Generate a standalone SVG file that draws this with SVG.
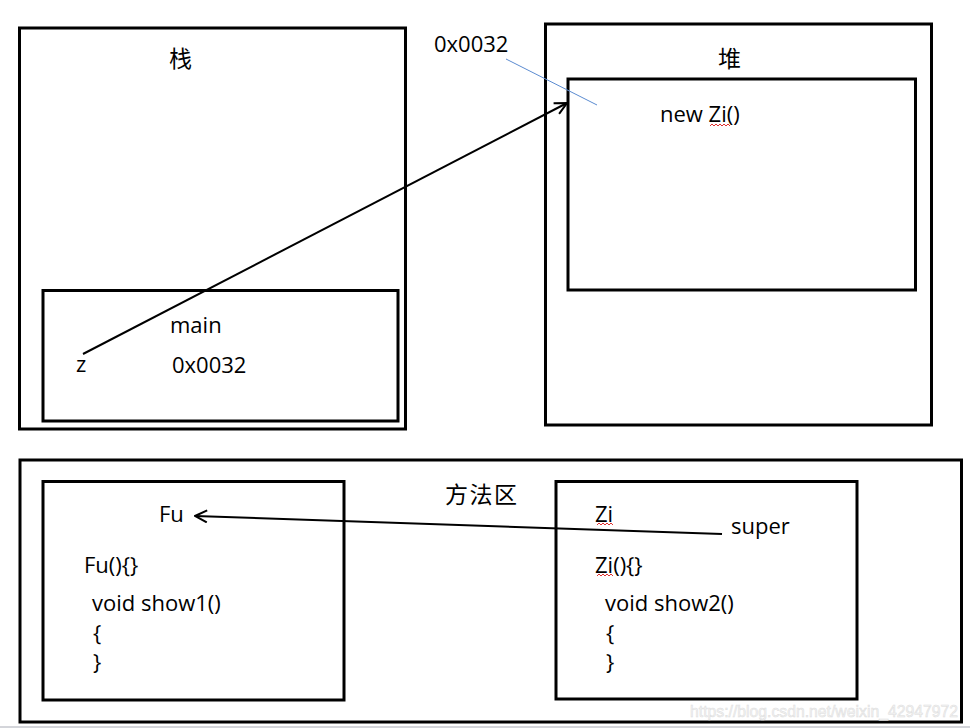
<svg xmlns="http://www.w3.org/2000/svg" width="970" height="728" viewBox="0 0 970 728">
<defs>
<style>
.box{fill:none;stroke:#000;stroke-width:3}
.t{font-family:"Open Sans","Liberation Sans",sans-serif;font-size:22px;fill:#000}
.cn{font-family:"Noto Sans CJK SC",sans-serif;font-size:23px;fill:#000}
.edge{fill:none;stroke:#000;stroke-width:2}
.sq{fill:none;stroke:#e03030;stroke-width:1}
</style>
<marker id="arr" viewBox="0 0 14 14" refX="13" refY="7" markerWidth="14" markerHeight="14" markerUnits="userSpaceOnUse" orient="auto">
<path d="M1,1 L13,7 L1,13" fill="none" stroke="#000" stroke-width="2"/>
</marker>
</defs>
<rect width="970" height="728" fill="#fff"/>
<g id="stack">
<rect class="box" x="19.5" y="28" width="386" height="401"/>
<text class="cn" x="169" y="67">栈</text>
</g>
<g id="main">
<rect class="box" x="43" y="290.5" width="355" height="130.5"/>
<text class="t" x="170" y="333">main</text>
<text class="t" x="76" y="372">z</text>
<text class="t" x="172" y="373">0x0032</text>
</g>
<g id="heap">
<rect class="box" x="545.5" y="24" width="386" height="401"/>
<text class="cn" x="718" y="67">堆</text>
</g>
<g id="zi-object">
<rect class="box" x="568" y="79" width="347.5" height="211"/>
<text class="t" x="660" y="122">new Zi()</text>
<path class="sq" d="M710,126 l2,-2 l2,2 l2,-2 l2,2 l2,-2 l2,2 l2,-2 l2,2 l2,-2 l2,2"/>
</g>
<g id="address-label">
<text class="t" x="434" y="52">0x0032</text>
</g>
<g id="method-area">
<rect class="box" x="20" y="460" width="941.5" height="262"/>
<text class="cn" x="445" y="503" letter-spacing="1.5">方法区</text>
</g>
<g id="fu-class">
<rect class="box" x="43" y="481.5" width="301" height="218.5"/>
<text class="t" x="159" y="522">Fu</text>
<text class="t" x="84" y="573">Fu(){}</text>
<text class="t" x="92" y="611">void show1()</text>
<text class="t" x="93" y="641">{</text>
<text class="t" x="93" y="670">}</text>
</g>
<g id="zi-class">
<rect class="box" x="556" y="481.5" width="301" height="217.5"/>
<text class="t" x="595" y="522">Zi</text>
<path class="sq" d="M597,525 l2,-2 l2,2 l2,-2 l2,2 l2,-2 l2,2 l2,-2 l2,2"/>
<text class="t" x="731" y="534">super</text>
<text class="t" x="595" y="573">Zi(){}</text>
<path class="sq" d="M597,576 l2,-2 l2,2 l2,-2 l2,2 l2,-2 l2,2 l2,-2 l2,2"/>
<text class="t" x="605" y="611">void show2()</text>
<text class="t" x="606" y="641">{</text>
<text class="t" x="606" y="670">}</text>
</g>
<g id="connectors">
<line class="edge" x1="83" y1="354" x2="567" y2="103" marker-end="url(#arr)"/>
<line class="edge" x1="722" y1="534" x2="195" y2="516" marker-end="url(#arr)"/>
<line x1="506" y1="59" x2="597" y2="105" stroke="#5b8bd0" stroke-width="1"/>
</g>
<text x="690" y="717" font-family="Liberation Sans,sans-serif" font-size="16" fill="#f4f4f4" stroke="#dcdcdc" stroke-width="0.5" textLength="268" lengthAdjust="spacingAndGlyphs">https://blog.csdn.net/weixin_42947972</text>
<line x1="0" y1="727" x2="970" y2="727" stroke="#a8abb5" stroke-width="1"/>
</svg>
